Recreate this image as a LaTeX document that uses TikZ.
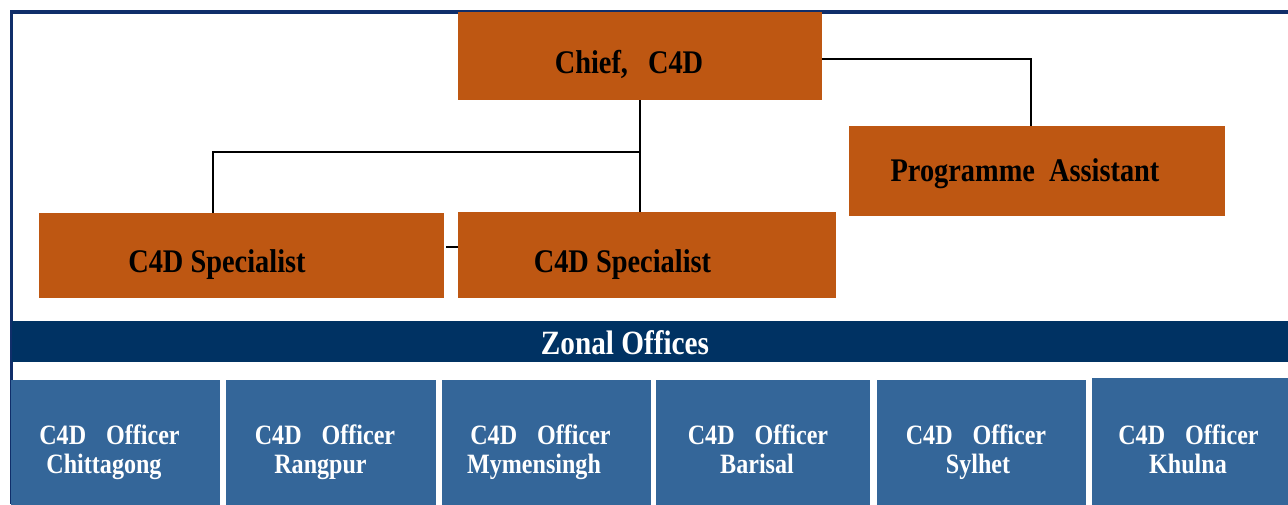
\documentclass[tikz,border=0pt]{standalone}
\usepackage{fontspec}
\setmainfont{Liberation Serif}[FakeStretch=0.86, Ligatures=CommonOff]
\definecolor{rust}{RGB}{190,87,18}
\definecolor{banner}{RGB}{0,50,99}
\definecolor{steel}{RGB}{52,102,153}
\definecolor{frame}{RGB}{16,46,106}
\begin{document}
\begin{tikzpicture}[x=1pt,y=-1pt,
  rustbox/.style={fill=rust, inner sep=0pt, outer sep=0pt},
  officebox/.style={fill=steel, inner sep=0pt, outer sep=0pt, minimum height=140pt},
  toptext/.style={font=\bfseries\fontsize{33}{36}\selectfont, text=black, anchor=base, inner sep=0pt},
  zonetext/.style={font=\bfseries\fontsize{34}{36}\selectfont, text=white, anchor=base, inner sep=0pt},
  officetext/.style={font=\bfseries\fontsize{28}{30}\selectfont, text=white, anchor=base, inner sep=0pt},
  link/.style={draw=black, line width=2.2pt}]
\useasboundingbox (0,0) rectangle (1288,504);
\clip (0,0) rectangle (1288,504);
\fill[white] (0,0) rectangle (1288,504);

% outer frame (top and left edges)
\draw[frame, line width=3.5pt] (11.5,504) -- (11.5,12) -- (1288,12);

% management boxes
\node[rustbox, minimum width=364pt, minimum height=88pt] (chief) at (640,56) {};
\node[rustbox, minimum width=376pt, minimum height=90pt] (pa) at (1037,171) {};
\node[rustbox, minimum width=405pt, minimum height=85pt] (spec1) at (241.5,255.5) {};
\node[rustbox, minimum width=378pt, minimum height=86pt] (spec2) at (647,255) {};

\node[toptext] (chieft) at ([xshift=-11pt, yshift=-17.3pt]chief.center) {Chief,\hspace{20pt}C4D};
\node[toptext] (pat) at ([xshift=-12pt, yshift=-10.7pt]pa.center) {Programme\hspace{14pt}Assistant};
\node[toptext] (spec1t) at ([xshift=-24.5pt, yshift=-16.5pt]spec1.center) {C4D Specialist};
\node[toptext] (spec2t) at ([xshift=-24.5pt, yshift=-17pt]spec2.center) {C4D Specialist};

% reporting lines
\coordinate (fork) at (chief.south |- 0,152);
\draw[link] (chief.south) -- (chief.south |- spec2.north);
\draw[link] (fork) -| ([xshift=-28.5pt]spec1.north);
\draw[link] ([yshift=-3pt]chief.east) -| ([xshift=-6pt]pa.north);
\draw[link] ([yshift=8.5pt,xshift=2pt]spec1.east) -- ([yshift=8.5pt]spec1.east -| spec2.west);

% zonal offices banner
\node[fill=banner, inner sep=0pt, minimum width=1276pt, minimum height=41pt] (zonal) at (650,341.5) {};
\node[zonetext] (zonalt) at ([xshift=-25pt, yshift=-12.8pt]zonal.center) {Zonal Offices};

% zonal officer boxes
\node[officebox, minimum width=209pt] (z1) at (115.5,450) {};
\node[officebox, minimum width=210pt] (z2) at (331,450) {};
\node[officebox, minimum width=209pt] (z3) at (546.5,450) {};
\node[officebox, minimum width=214pt] (z4) at (763,450) {};
\node[officebox, minimum width=209pt] (z5) at (981.5,450) {};
\node[officebox, minimum width=208pt, minimum height=142pt] (z6) at (1196,449) {};

\node[officetext] (z1a) at ([xshift=-6pt, yshift=5.7pt]z1.center) {C4D\hspace{20pt}Officer};
\node[officetext] (z1b) at ([xshift=-11.5pt, yshift=-23pt]z1.center) {Chittagong};
\node[officetext] (z2a) at ([xshift=-6pt, yshift=5.7pt]z2.center) {C4D\hspace{20pt}Officer};
\node[officetext] (z2b) at ([xshift=-10.5pt, yshift=-23pt]z2.center) {Rangpur};
\node[officetext] (z3a) at ([xshift=-6pt, yshift=5.7pt]z3.center) {C4D\hspace{20pt}Officer};
\node[officetext] (z3b) at ([xshift=-12.5pt, yshift=-23pt]z3.center) {Mymensingh};
\node[officetext] (z4a) at ([xshift=-5pt, yshift=5.7pt]z4.center) {C4D\hspace{20pt}Officer};
\node[officetext] (z4b) at ([xshift=-6pt, yshift=-23pt]z4.center) {Barisal};
\node[officetext] (z5a) at ([xshift=-5.5pt, yshift=5.7pt]z5.center) {C4D\hspace{20pt}Officer};
\node[officetext] (z5b) at ([xshift=-3.5pt, yshift=-23pt]z5.center) {Sylhet};
\node[officetext] (z6a) at ([xshift=-7.5pt, yshift=4.7pt]z6.center) {C4D\hspace{20pt}Officer};
\node[officetext] (z6b) at ([xshift=-8pt, yshift=-24pt]z6.center) {Khulna};
\end{tikzpicture}
\end{document}
